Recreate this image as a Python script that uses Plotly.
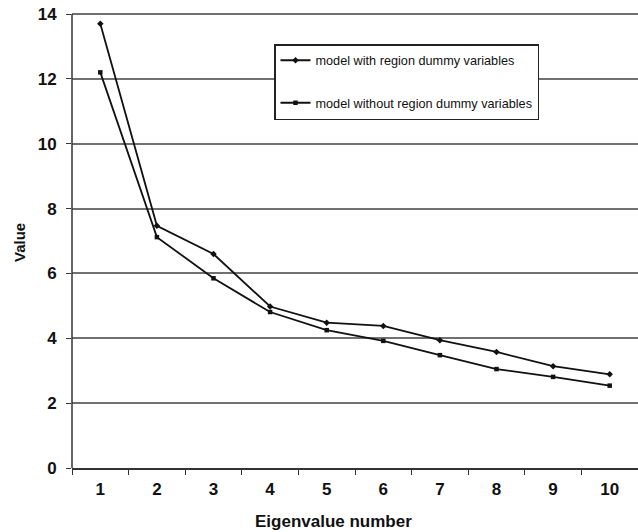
import plotly.graph_objects as go

categories = ["1", "2", "3", "4", "5", "6", "7", "8", "9", "10"]
with_dummies = [13.7, 7.47, 6.6, 4.98, 4.48, 4.38, 3.94, 3.58, 3.14, 2.89]
without_dummies = [12.2, 7.12, 5.85, 4.81, 4.25, 3.92, 3.48, 3.05, 2.81, 2.54]
y_ticks = [0, 2, 4, 6, 8, 10, 12, 14]
name_with = "model with region dummy variables"
name_without = "model without region dummy variables"

FONT = "Liberation Sans, Arial, sans-serif"
W, H = 638, 532
TOP_PAD = 2  # extra px above the 14 gridline so it is drawn
M_L, M_R, M_T, M_B = 72, 0, 14 - TOP_PAD, H - 468
plot_h = H - M_T - M_B
plot_w = W - M_L - M_R
Y_MAX = 14 * plot_h / (plot_h - TOP_PAD)


def px_x(wx):
    return (wx - M_L) / plot_w


def px_y(wy):
    return (H - M_B - wy) / plot_h


fig = go.Figure()
fig.add_trace(go.Scatter(
    x=categories, y=with_dummies, name=name_with, mode="lines+markers",
    line=dict(color="#111111", width=1.8),
    marker=dict(symbol="diamond", size=5, color="#111111"),
    legendgroup="a",
))
fig.add_trace(go.Scatter(
    x=categories, y=without_dummies, name=name_without, mode="lines+markers",
    line=dict(color="#111111", width=1.8),
    marker=dict(symbol="square", size=4.5, color="#111111"),
    legendgroup="b",
))

fig.update_layout(
    width=W, height=H,
    margin=dict(l=M_L, r=M_R, t=M_T, b=M_B, autoexpand=False),
    paper_bgcolor="white", plot_bgcolor="white",
    font=dict(family=FONT, color="#111111"),
    showlegend=True,
    legend=dict(
        x=px_x(274), y=px_y(44), xanchor="left", yanchor="top",
        bgcolor="white", bordercolor="#222222", borderwidth=1.5,
        font=dict(family=FONT, size=12.7, color="#111111"),
        tracegroupgap=23, traceorder="grouped",
        itemwidth=30,
    ),
    xaxis=dict(
        type="category", range=[-0.5, 9.5], automargin=False,
        tickson="boundaries", ticks="outside", ticklen=5, tickwidth=1.2,
        tickcolor="#333333", ticklabelstandoff=5,
        showline=True, linecolor="#333333", linewidth=1.5,
        showgrid=False, zeroline=False,
        tickfont=dict(family=FONT, size=17, weight="bold", color="#111111"),
    ),
    yaxis=dict(
        range=[0, Y_MAX], tickvals=y_ticks, automargin=False,
        ticks="outside", ticklen=5, tickwidth=1.2, tickcolor="#333333",
        ticklabelstandoff=6, ticklabeloverflow="allow",
        showline=False,
        showgrid=True, gridcolor="#707070", gridwidth=1.6,
        zeroline=False,
        tickfont=dict(family=FONT, size=17, weight="bold", color="#111111"),
    ),
    shapes=[dict(
        type="line", xref="paper", x0=0, x1=0, yref="y", y0=0, y1=14,
        line=dict(color="#333333", width=1.5),
    )],
    annotations=[
        dict(
            text="Eigenvalue number", x=px_x(333), xref="paper",
            y=px_y(521), yref="paper", xanchor="center", yanchor="middle",
            showarrow=False, font=dict(family=FONT, size=17, weight="bold", color="#111111"),
        ),
        dict(
            text="Value", x=px_x(20), xref="paper",
            y=px_y(243), yref="paper", xanchor="center", yanchor="middle",
            textangle=-90,
            showarrow=False, font=dict(family=FONT, size=15, weight="bold", color="#111111"),
        ),
    ],
)

fig.write_html(
    "out.html",
    config={"displayModeBar": False},
    post_script="document.body.style.margin='0';document.body.style.overflow='hidden';",
)
